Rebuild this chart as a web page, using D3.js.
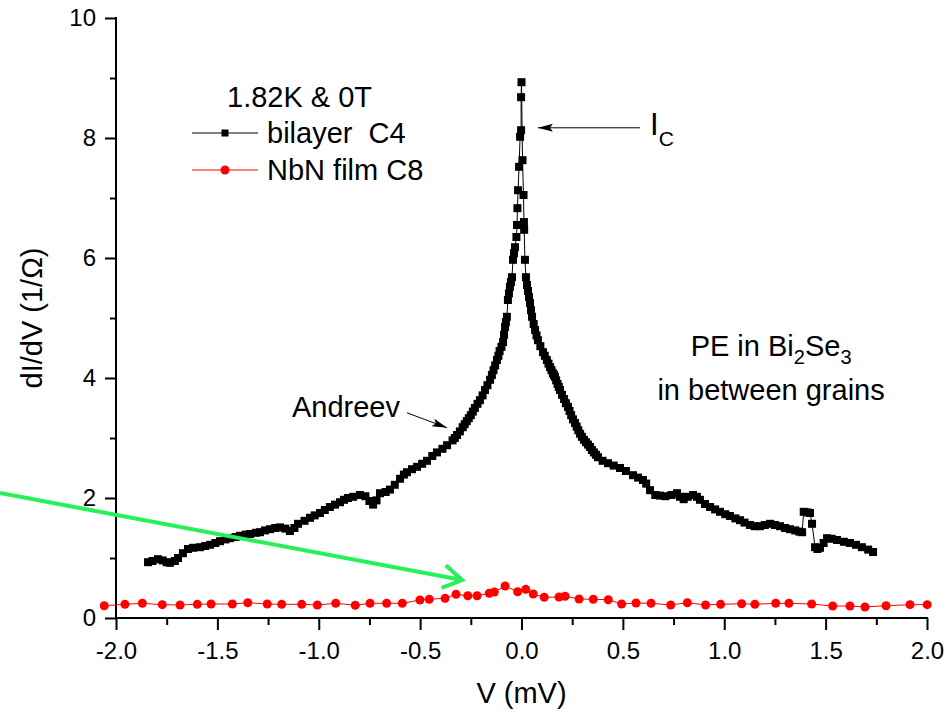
<!DOCTYPE html>
<html>
<head>
<meta charset="utf-8">
<script src="https://cdnjs.cloudflare.com/ajax/libs/d3/7.8.5/d3.min.js"></script>
<style>
  body { margin: 0; background: #fff; }
  svg text { font-family: "Liberation Sans", Arial, Helvetica, sans-serif; fill: #000; }
</style>
</head>
<body>
<div id="chart"></div>
<script>
// bilayer C4 : [V (mV), dI/dV (1/Ohm)]
var bilayer = [
  [-1.842, 0.93], [-1.820, 0.95], [-1.793, 0.98], [-1.770, 0.96], [-1.750, 0.93],
  [-1.734, 0.92], [-1.710, 0.95], [-1.694, 1.00], [-1.670, 1.08], [-1.645, 1.15],
  [-1.620, 1.17], [-1.586, 1.18], [-1.560, 1.20], [-1.536, 1.22], [-1.510, 1.25],
  [-1.487, 1.28], [-1.460, 1.31], [-1.438, 1.33], [-1.410, 1.35], [-1.388, 1.37],
  [-1.360, 1.39], [-1.339, 1.40], [-1.310, 1.42], [-1.290, 1.43], [-1.265, 1.46],
  [-1.240, 1.48], [-1.215, 1.50], [-1.191, 1.51], [-1.165, 1.49], [-1.142, 1.45],
  [-1.120, 1.50], [-1.102, 1.57], [-1.070, 1.62], [-1.043, 1.67], [-1.020, 1.71],
  [-0.994, 1.75], [-0.970, 1.80], [-0.945, 1.85], [-0.920, 1.89], [-0.895, 1.93],
  [-0.875, 1.97], [-0.856, 2.00], [-0.830, 2.02], [-0.797, 2.05], [-0.770, 2.03],
  [-0.750, 1.95], [-0.732, 1.89], [-0.715, 1.96], [-0.698, 2.08], [-0.670, 2.10],
  [-0.649, 2.14], [-0.625, 2.22], [-0.599, 2.32], [-0.580, 2.39], [-0.565, 2.43],
  [-0.540, 2.48], [-0.515, 2.52], [-0.490, 2.57], [-0.466, 2.62], [-0.440, 2.70],
  [-0.417, 2.76], [-0.390, 2.82], [-0.367, 2.88], [-0.340, 2.96], [-0.329, 3.00],
  [-0.318, 3.05], [-0.304, 3.11], [-0.290, 3.18], [-0.280, 3.23], [-0.270, 3.28],
  [-0.260, 3.33], [-0.250, 3.38], [-0.240, 3.44], [-0.230, 3.50], [-0.217, 3.57],
  [-0.205, 3.63], [-0.192, 3.71], [-0.180, 3.80], [-0.168, 3.88], [-0.155, 3.97],
  [-0.146, 4.05], [-0.138, 4.13], [-0.130, 4.21], [-0.121, 4.30], [-0.114, 4.37],
  [-0.108, 4.45], [-0.099, 4.52], [-0.091, 4.60], [-0.086, 4.72], [-0.081, 4.85],
  [-0.077, 4.93], [-0.072, 5.02], [-0.067, 5.30], [-0.062, 5.41], [-0.057, 5.52],
  [-0.052, 5.60], [-0.047, 5.68], [-0.042, 5.97], [-0.037, 6.08], [-0.032, 6.18],
  [-0.025, 6.35], [-0.022, 6.55], [-0.020, 6.83], [-0.017, 7.13], [-0.012, 7.52],
  [-0.007, 8.02], [-0.002, 8.13], [-0.002, 8.68], [0.000, 8.93], [0.005, 7.63],
  [0.010, 7.05], [0.012, 6.60], [0.013, 6.47], [0.017, 5.97], [0.022, 5.68],
  [0.027, 5.55], [0.032, 5.45], [0.037, 5.35], [0.042, 5.25], [0.047, 5.13],
  [0.052, 5.02], [0.060, 4.90], [0.067, 4.80], [0.074, 4.71], [0.081, 4.63],
  [0.093, 4.53], [0.106, 4.43], [0.115, 4.37], [0.125, 4.30], [0.133, 4.24],
  [0.141, 4.18], [0.148, 4.13], [0.155, 4.08], [0.160, 4.05], [0.165, 4.02],
  [0.171, 3.96], [0.178, 3.90], [0.184, 3.85], [0.190, 3.80], [0.200, 3.72],
  [0.210, 3.65], [0.219, 3.58], [0.229, 3.52], [0.237, 3.45], [0.245, 3.38],
  [0.254, 3.31], [0.264, 3.25], [0.272, 3.19], [0.280, 3.13], [0.289, 3.07],
  [0.298, 3.02], [0.308, 2.97], [0.318, 2.93], [0.328, 2.89], [0.338, 2.85],
  [0.347, 2.80], [0.357, 2.76], [0.367, 2.72], [0.377, 2.68], [0.400, 2.62],
  [0.427, 2.58], [0.455, 2.54], [0.486, 2.50], [0.515, 2.45], [0.550, 2.38],
  [0.575, 2.34], [0.599, 2.30], [0.615, 2.24], [0.634, 2.13], [0.660, 2.05],
  [0.683, 2.04], [0.710, 2.03], [0.740, 2.05], [0.767, 2.08], [0.782, 2.02],
  [0.800, 1.98], [0.820, 2.02], [0.846, 2.05], [0.865, 2.02], [0.880, 1.97],
  [0.905, 1.90], [0.930, 1.85], [0.955, 1.81], [0.979, 1.77], [1.005, 1.73],
  [1.028, 1.70], [1.055, 1.66], [1.078, 1.63], [1.100, 1.59], [1.127, 1.55],
  [1.150, 1.53], [1.176, 1.53], [1.200, 1.55], [1.226, 1.57], [1.250, 1.55],
  [1.275, 1.53], [1.300, 1.50], [1.324, 1.48], [1.350, 1.46], [1.370, 1.44],
  [1.384, 1.43], [1.392, 1.77], [1.410, 1.76], [1.423, 1.75], [1.433, 1.57],
  [1.448, 1.18], [1.460, 1.15], [1.472, 1.17], [1.490, 1.25], [1.507, 1.33],
  [1.530, 1.32], [1.556, 1.30], [1.590, 1.27], [1.620, 1.25], [1.650, 1.22],
  [1.679, 1.18], [1.710, 1.14], [1.734, 1.10]
];

// NbN film C8 : [V (mV), dI/dV (1/Ohm)]
var nbnFilm = [
  [-2.058, 0.205], [-1.956, 0.228], [-1.870, 0.245], [-1.772, 0.222], [-1.684, 0.217],
  [-1.599, 0.228], [-1.531, 0.233], [-1.426, 0.233], [-1.350, 0.255], [-1.254, 0.233],
  [-1.183, 0.228], [-1.084, 0.228], [-1.007, 0.217], [-0.916, 0.245], [-0.820, 0.212],
  [-0.747, 0.245], [-0.665, 0.245], [-0.588, 0.245], [-0.501, 0.300], [-0.455, 0.312],
  [-0.377, 0.328], [-0.323, 0.395], [-0.265, 0.370], [-0.219, 0.370], [-0.159, 0.412],
  [-0.134, 0.433], [-0.081, 0.533], [-0.019, 0.438], [0.021, 0.478], [0.058, 0.400],
  [0.112, 0.345], [0.185, 0.350], [0.215, 0.362], [0.284, 0.317], [0.354, 0.312],
  [0.428, 0.305], [0.494, 0.233], [0.565, 0.250], [0.639, 0.245], [0.736, 0.217],
  [0.818, 0.255], [0.908, 0.217], [0.982, 0.228], [1.086, 0.238], [1.151, 0.228],
  [1.254, 0.245], [1.319, 0.245], [1.431, 0.233], [1.535, 0.200], [1.620, 0.200],
  [1.694, 0.183], [1.798, 0.205], [1.916, 0.222], [2.001, 0.222]
];

var xTicks = [-2.0, -1.5, -1.0, -0.5, 0.0, 0.5, 1.0, 1.5, 2.0];
var xMinorTicks = [-1.75, -1.25, -0.75, -0.25, 0.25, 0.75, 1.25, 1.75];
var yTicks = [0, 2, 4, 6, 8, 10];
var yMinorTicks = [1, 3, 5, 7, 9];

var legendTitle = "1.82K & 0T";
var seriesNames = ["bilayer  C4", "NbN film C8"];

var width = 949, height = 713;

var svg = d3.select("#chart")
  .append("svg")
    .attr("width", width)
    .attr("height", height);

// scales
var x = d3.scaleLinear().domain([-2, 2]).range([116, 927]);
var y = d3.scaleLinear().domain([0, 10]).range([618, 18]);

// arrow heads
var defs = svg.append("defs");
defs.append("marker")
    .attr("id", "head")
    .attr("markerUnits", "userSpaceOnUse")
    .attr("markerWidth", 16)
    .attr("markerHeight", 10)
    .attr("refX", 15)
    .attr("refY", 4)
    .attr("orient", "auto")
  .append("path")
    .attr("d", "M0,0 L15,4 L0,8 L3,4 Z")
    .style("fill", "#000");

// axes
var yAxis = svg.append("g")
  .attr("transform", "translate(" + x(-2) + ",0)")
  .call(d3.axisLeft(y).tickValues(yTicks).tickSize(11).tickPadding(9).tickFormat(d3.format("d")));
var yMinor = svg.append("g")
  .attr("transform", "translate(" + x(-2) + ",0)")
  .call(d3.axisLeft(y).tickValues(yMinorTicks).tickSize(6).tickFormat(""));

var xAxis = svg.append("g")
  .attr("transform", "translate(0," + y(0) + ")")
  .call(d3.axisBottom(x).tickValues(xTicks).tickSize(12).tickPadding(12)
    .tickFormat(function(d) { return d.toFixed(1); }));
var xMinor = svg.append("g")
  .attr("transform", "translate(0," + y(0) + ")")
  .call(d3.axisBottom(x).tickValues(xMinorTicks).tickSize(7).tickFormat(""));

// plain spines instead of the d3 domain paths
svg.selectAll(".domain").remove();
svg.append("line")
  .attr("x1", x(-2)).attr("x2", x(-2))
  .attr("y1", y(10) - 1).attr("y2", y(0))
  .style("stroke", "#000").style("stroke-width", 2);
svg.append("line")
  .attr("x1", x(-2) - 1).attr("x2", x(2) + 1)
  .attr("y1", y(0)).attr("y2", y(0))
  .style("stroke", "#000").style("stroke-width", 2);

svg.selectAll(".tick line").style("stroke", "#000").style("stroke-width", 2);
svg.selectAll(".tick text")
  .style("font-size", "24px")
  .style("font-family", "'Liberation Sans', Arial, sans-serif")
  .style("fill", "#000");

// axis titles
svg.append("text")
  .attr("transform", "translate(42," + y(5) + ") rotate(-90)")
  .attr("text-anchor", "middle")
  .style("font-size", "29px")
  .text("dI/dV (1/\u03A9)");
svg.append("text")
  .attr("x", x(0))
  .attr("y", 703)
  .attr("text-anchor", "middle")
  .style("font-size", "29px")
  .text("V (mV)");

var line = d3.line()
  .x(function(d) { return x(d[0]); })
  .y(function(d) { return y(d[1]); });

// red series: NbN film
svg.append("path")
  .datum(nbnFilm)
  .attr("d", line)
  .style("fill", "none")
  .style("stroke", "#ff0000")
  .style("stroke-width", 1);
svg.selectAll(".nbn")
  .data(nbnFilm)
  .enter()
  .append("circle")
    .attr("class", "nbn")
    .attr("cx", function(d) { return x(d[0]); })
    .attr("cy", function(d) { return y(d[1]); })
    .attr("r", 4.5)
    .style("fill", "#ff0000");

// black series: bilayer
svg.append("path")
  .datum(bilayer)
  .attr("d", line)
  .style("fill", "none")
  .style("stroke", "#000")
  .style("stroke-width", 1);
var sq = 8;
svg.selectAll(".bil")
  .data(bilayer)
  .enter()
  .append("rect")
    .attr("class", "bil")
    .attr("x", function(d) { return x(d[0]) - sq / 2; })
    .attr("y", function(d) { return y(d[1]) - sq / 2; })
    .attr("width", sq)
    .attr("height", sq)
    .style("fill", "#000");

// green pointer arrow, drawn over the curves
var gx0 = x(-2.572), gy0 = y(2.083), gx1 = x(-0.293), gy1 = y(0.633);
var ang = Math.atan2(gy1 - gy0, gx1 - gx0);
var hl = 22, hw = 0.55;
svg.append("path")
  .attr("d", "M" + gx0 + "," + gy0 + "L" + gx1 + "," + gy1 +
    "M" + (gx1 - hl * Math.cos(ang - hw)) + "," + (gy1 - hl * Math.sin(ang - hw)) +
    "L" + gx1 + "," + gy1 +
    "L" + (gx1 - hl * Math.cos(ang + hw)) + "," + (gy1 - hl * Math.sin(ang + hw)))
  .style("fill", "none")
  .style("stroke", "#26f05a")
  .style("stroke-width", 4)
  .style("stroke-linejoin", "miter");

// legend
var legend = svg.append("g");
legend.append("text")
  .attr("x", 227).attr("y", 107)
  .style("font-size", "29px")
  .text(legendTitle);
[{y: 133, color: "#000"}, {y: 170, color: "#ff0000"}].forEach(function(row, i) {
  legend.append("line")
    .attr("x1", 192).attr("x2", 258)
    .attr("y1", row.y).attr("y2", row.y)
    .style("stroke", row.color)
    .style("stroke-width", 1);
  if (i == 0) {
    legend.append("rect")
      .attr("x", 225 - 3.5).attr("y", row.y - 3.5)
      .attr("width", 7).attr("height", 7)
      .style("fill", row.color);
  } else {
    legend.append("circle")
      .attr("cx", 225).attr("cy", row.y)
      .attr("r", 4.5)
      .style("fill", row.color);
  }
  legend.append("text")
    .attr("x", 267).attr("y", row.y + 10)
    .style("font-size", "29px")
    .style("white-space", "pre")
    .text(seriesNames[i]);
});

// Ic annotation
svg.append("line")
  .attr("x1", x(0.584)).attr("y1", y(8.17))
  .attr("x2", x(0.081)).attr("y2", y(8.17))
  .style("stroke", "#000")
  .style("stroke-width", 1)
  .attr("marker-end", "url(#head)");
var ic = svg.append("text")
  .attr("x", x(0.634)).attr("y", y(8.05))
  .style("font-size", "31px");
ic.append("tspan").text("I");
ic.append("tspan").attr("dy", 11).style("font-size", "21px").text("C");

// Andreev annotation
svg.append("text")
  .attr("x", x(-1.132)).attr("y", y(3.35))
  .style("font-size", "29px")
  .text("Andreev");
svg.append("line")
  .attr("x1", x(-0.565)).attr("y1", y(3.42))
  .attr("x2", x(-0.367)).attr("y2", y(3.17))
  .style("stroke", "#000")
  .style("stroke-width", 1)
  .attr("marker-end", "url(#head)");

// PE note
var pe = svg.append("text")
  .attr("x", x(1.231)).attr("y", y(4.37))
  .attr("text-anchor", "middle")
  .style("font-size", "29px");
pe.append("tspan").text("PE in Bi");
pe.append("tspan").attr("dy", 8).style("font-size", "20px").text("2");
pe.append("tspan").attr("dy", -8).text("Se");
pe.append("tspan").attr("dy", 8).style("font-size", "20px").text("3");
svg.append("text")
  .attr("x", x(1.231)).attr("y", y(3.63))
  .attr("text-anchor", "middle")
  .style("font-size", "29px")
  .text("in between grains");
</script>
</body>
</html>
